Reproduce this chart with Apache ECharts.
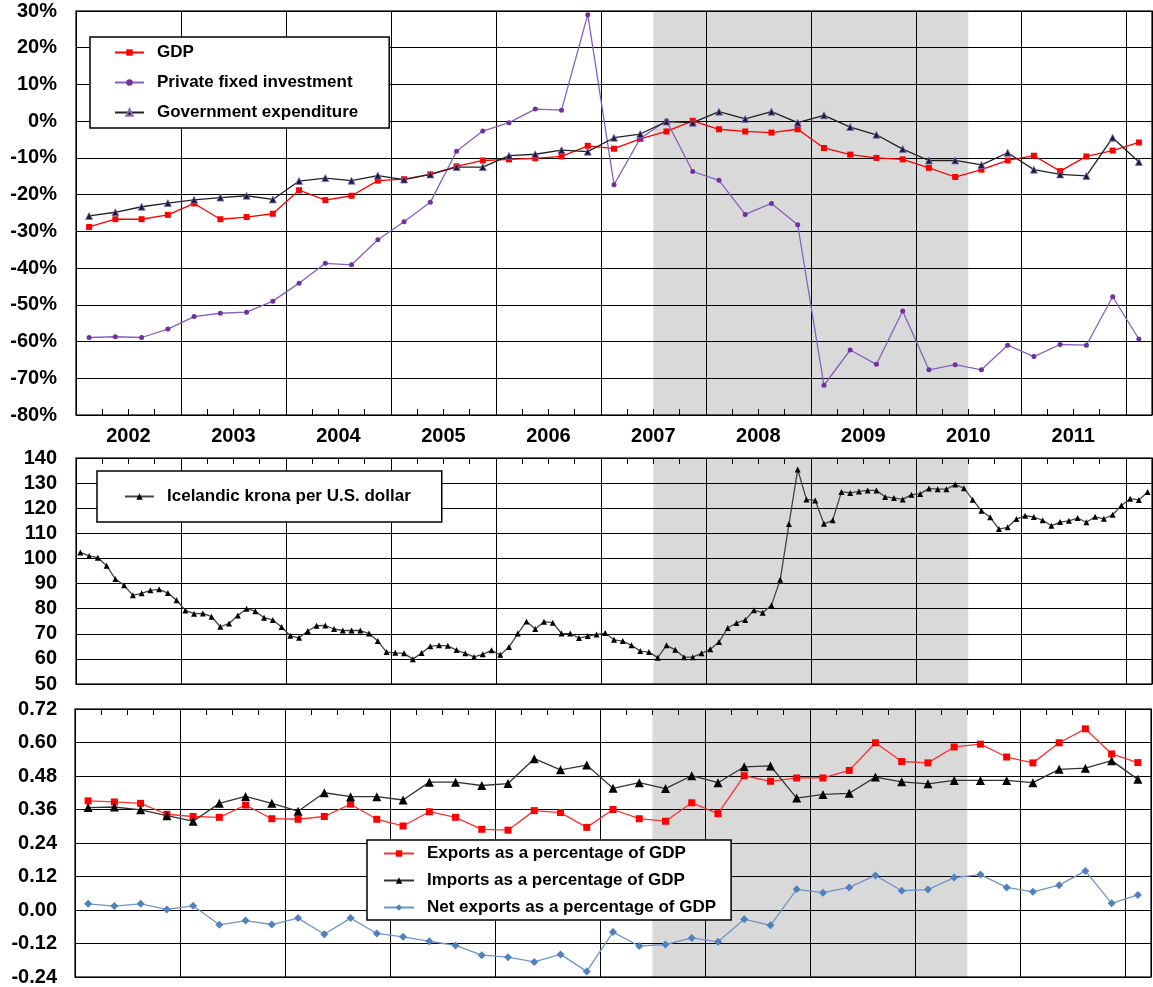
<!DOCTYPE html>
<html><head><meta charset="utf-8">
<script src="https://cdn.jsdelivr.net/npm/echarts@6/dist/echarts.min.js"></script>
<style>html,body{margin:0;padding:0;background:#fff}#c{width:1153px;height:987px}</style>
</head><body><div id="c"></div><script>
// ---- data ----
const years = ['2002','2003','2004','2005','2006','2007','2008','2009','2010','2011'];
const gdp = [-28.8,-26.7,-26.7,-25.5,-22.4,-26.7,-26.1,-25.2,-18.8,-21.5,-20.3,-16.2,-15.8,-14.5,-12.3,-10.7,-10.4,-10.1,-9.6,-6.7,-7.5,-4.8,-2.8,0.1,-2.2,-2.8,-3.1,-2.2,-7.3,-9.1,-10.0,-10.4,-12.7,-15.2,-13.2,-10.7,-9.4,-13.6,-9.6,-8.0,-5.8];
const privateInv = [-58.9,-58.7,-58.9,-56.6,-53.2,-52.3,-52.0,-49.0,-44.1,-38.7,-39.1,-32.3,-27.4,-22.1,-8.2,-2.7,-0.4,3.3,3.0,29.0,-17.3,-4.7,0.1,-13.7,-16.1,-25.4,-22.4,-28.2,-71.9,-62.3,-66.2,-51.7,-67.7,-66.3,-67.7,-61.0,-64.1,-60.8,-61.0,-47.8,-59.3];
const govExp = [-25.8,-24.8,-23.3,-22.3,-21.4,-20.8,-20.3,-21.3,-16.3,-15.5,-16.2,-14.8,-15.9,-14.5,-12.5,-12.5,-9.4,-9.0,-7.9,-8.3,-4.5,-3.5,-0.1,-0.4,2.6,0.6,2.6,-0.4,1.6,-1.6,-3.7,-7.6,-10.7,-10.7,-11.9,-8.6,-13.2,-14.5,-14.9,-4.5,-11.1];
const krona = [102.4,101.0,100.3,97.1,91.8,89.3,85.3,86.1,87.3,87.7,86.2,83.4,
79.3,78.0,78.1,76.8,72.8,74.1,77.3,80.0,79.0,76.4,75.5,72.7,
69.2,68.4,71.1,73.2,73.3,71.9,71.3,71.3,71.3,70.1,67.1,62.7,
62.4,62.2,59.9,62.3,65.0,65.4,65.2,63.5,62.2,60.8,61.8,63.4,
61.6,64.7,70.1,74.9,71.9,74.8,74.4,70.1,70.1,68.3,69.1,69.7,
70.3,67.6,67.1,65.4,63.1,62.7,60.5,65.4,63.6,60.7,60.7,62.2,
63.8,66.7,72.3,74.3,75.5,79.4,78.4,81.4,91.5,113.7,135.4,123.5,
123.1,113.8,115.2,126.5,126.1,126.7,127.1,127.1,124.5,124.1,123.5,125.4,
125.7,127.9,127.6,127.6,129.4,128.0,123.4,119.0,116.4,111.7,112.4,115.7,
117.0,116.5,115.2,113.0,114.5,115.0,116.1,114.4,116.6,115.8,117.4,121.1,
123.8,123.3,126.5];
const exportsPct = [0.391,0.387,0.382,0.343,0.335,0.332,0.376,0.327,0.325,0.335,0.379,0.325,0.301,0.352,0.332,0.289,0.286,0.356,0.349,0.296,0.360,0.327,0.318,0.384,0.345,0.481,0.461,0.473,0.473,0.500,0.599,0.532,0.527,0.584,0.594,0.548,0.527,0.599,0.649,0.559,0.528];
const importsPct = [0.367,0.369,0.359,0.338,0.318,0.382,0.407,0.382,0.354,0.420,0.406,0.406,0.394,0.458,0.458,0.446,0.453,0.542,0.502,0.519,0.436,0.456,0.435,0.481,0.456,0.513,0.516,0.401,0.414,0.418,0.476,0.459,0.452,0.464,0.464,0.464,0.456,0.504,0.508,0.535,0.468];
const netPct = [0.022,0.014,0.022,0.002,0.015,-0.053,-0.038,-0.052,-0.029,-0.087,-0.029,-0.084,-0.096,-0.112,-0.127,-0.162,-0.169,-0.186,-0.159,-0.220,-0.079,-0.129,-0.124,-0.100,-0.114,-0.033,-0.055,0.074,0.062,0.081,0.124,0.069,0.073,0.116,0.127,0.081,0.065,0.089,0.140,0.024,0.054];
// recession band (quarter index / month index from Jan 2002)
const recessionQ = [22, 34];
const recessionM = [66, 102];

// ---- chart ----
const NQ = gdp.length, NM = krona.length;
const pts = arr => arr.map((v, i) => [i + 0.5, v]);
const FONT = '"Liberation Sans", Arial, sans-serif';
const lab = {fontFamily: FONT, fontWeight: 'bold', fontSize: 20, color: '#000'};
const legText = {fontFamily: FONT, fontWeight: 'bold', fontSize: 17, color: '#000', padding: [0, 0, 0, 8]};
const gridBase = {show: true, borderColor: '#333', borderWidth: 1.5, backgroundColor: '#fff'};
const band = r => ({silent: true, itemStyle: {color: 'rgba(0,0,0,0.15)'}, data: [[{xAxis: r[0]}, {xAxis: r[1]}]]});

function mainX(g, max, interval) {
  return {type: 'value', gridIndex: g, min: 0, max: max, interval: interval, position: 'bottom',
    axisLine: {show: false, onZero: false}, axisTick: {show: false}, axisLabel: {show: false},
    splitLine: {show: true, lineStyle: {color: '#000', width: 1}}};
}
function tickX(g, max, interval, pos) {
  return {type: 'value', gridIndex: g, min: 0, max: max, interval: interval, position: pos,
    axisLine: {show: false, onZero: false}, axisTick: {show: true, inside: true, length: 6, lineStyle: {color: '#000', width: 1}},
    axisLabel: {show: false}, splitLine: {show: false}};
}
function yAx(g, min, max, interval, fmt, margin) {
  return {type: 'value', gridIndex: g, min: min, max: max, interval: interval,
    axisLine: {show: false, onZero: false}, axisTick: {show: false},
    axisLabel: Object.assign({margin: margin, formatter: fmt}, lab),
    splitLine: {show: true, lineStyle: {color: '#000', width: 1}}};
}

const option = {
  animation: false,
  backgroundColor: '#fff',
  grid: [
    Object.assign({left: 76, top: 11, width: 1076, height: 404}, gridBase),
    Object.assign({left: 76, top: 458, width: 1076, height: 226}, gridBase),
    Object.assign({left: 75, top: 709, width: 1076, height: 272}, gridBase)
  ],
  xAxis: [
    mainX(0, NQ, 4),
    {type: 'value', gridIndex: 0, min: 0, max: NQ, interval: 2, position: 'bottom',
      axisLine: {show: false, onZero: false}, axisTick: {show: false}, splitLine: {show: false},
      axisLabel: Object.assign({margin: 11, showMinLabel: false, showMaxLabel: false,
        formatter: v => (Math.round(v) % 4 === 2 && years[(Math.round(v) - 2) / 4]) ? years[(Math.round(v) - 2) / 4] : ''}, lab)},
    tickX(0, NQ, 1, 'bottom'),
    mainX(1, NM, 12),
    tickX(1, NM, 3, 'top'),
    mainX(2, NQ, 4),
    tickX(2, NQ, 1, 'top')
  ],
  yAxis: [
    yAx(0, -80, 30, 10, v => Math.round(v) + '%', 19),
    yAx(1, 50, 140, 10, v => String(Math.round(v)), 19),
    yAx(2, -0.24, 0.72, 0.12, v => (Math.abs(v) < 1e-9 ? 0 : v).toFixed(2), 18)
  ],
  legend: [
    {orient: 'vertical', left: 90, top: 37, padding: [7, 31, 7, 24], itemGap: 13, itemWidth: 29, itemHeight: 8,
      borderColor: '#000', borderWidth: 1.5, backgroundColor: '#fff', textStyle: legText,
      data: ['GDP', 'Private fixed investment', 'Government expenditure']},
    {orient: 'vertical', left: 97, top: 471, padding: [17, 31, 17, 27], itemWidth: 29, itemHeight: 8,
      borderColor: '#000', borderWidth: 1.5, backgroundColor: '#fff', textStyle: legText,
      data: ['Icelandic krona per U.S. dollar']},
    {orient: 'vertical', left: 367, top: 840, padding: [5, 15, 4, 16], itemGap: 10, itemWidth: 30, itemHeight: 8,
      borderColor: '#000', borderWidth: 1.5, backgroundColor: '#fff', textStyle: legText,
      data: ['Exports as a percentage of GDP', 'Imports as a percentage of GDP', 'Net exports as a percentage of GDP']}
  ],
  series: [
    {name: 'GDP', type: 'line', xAxisIndex: 0, yAxisIndex: 0, data: pts(gdp), symbol: 'rect', symbolSize: 6,
      color: '#FF0000', lineStyle: {color: '#FF0000', width: 1.3}, itemStyle: {color: '#FF0000'}, markArea: band(recessionQ)},
    {name: 'Private fixed investment', type: 'line', xAxisIndex: 0, yAxisIndex: 0, data: pts(privateInv), symbol: 'circle', symbolSize: 5,
      color: '#7030A0', lineStyle: {color: '#8660C0', width: 1.3}, itemStyle: {color: '#7030A0'}},
    {name: 'Government expenditure', type: 'line', xAxisIndex: 0, yAxisIndex: 0, data: pts(govExp), symbol: 'triangle', symbolSize: 7,
      color: '#222', lineStyle: {color: '#222', width: 1.3}, itemStyle: {color: '#1a1a40', borderColor: '#8870b8', borderWidth: 0.8}},
    {name: 'Icelandic krona per U.S. dollar', type: 'line', xAxisIndex: 3, yAxisIndex: 1, data: pts(krona), symbol: 'triangle', symbolSize: 6,
      color: '#333', lineStyle: {color: '#444', width: 1.3}, itemStyle: {color: '#000'}, markArea: band(recessionM)},
    {name: 'Exports as a percentage of GDP', type: 'line', xAxisIndex: 5, yAxisIndex: 2, data: pts(exportsPct), symbol: 'rect', symbolSize: 7,
      color: '#FF0000', lineStyle: {color: '#FF3030', width: 1.3}, itemStyle: {color: '#FF0000'}, markArea: band(recessionQ)},
    {name: 'Imports as a percentage of GDP', type: 'line', xAxisIndex: 5, yAxisIndex: 2, data: pts(importsPct), symbol: 'triangle', symbolSize: 9,
      color: '#000', lineStyle: {color: '#333', width: 1.3}, itemStyle: {color: '#000'}},
    {name: 'Net exports as a percentage of GDP', type: 'line', xAxisIndex: 5, yAxisIndex: 2, data: pts(netPct), symbol: 'diamond', symbolSize: 8,
      color: '#4F81BD', lineStyle: {color: '#6F96C8', width: 1.3}, itemStyle: {color: '#4F81BD'}}
  ]
};
const chart = echarts.init(document.getElementById('c'), null, {renderer: 'canvas'});
chart.setOption(option);
</script></body></html>
